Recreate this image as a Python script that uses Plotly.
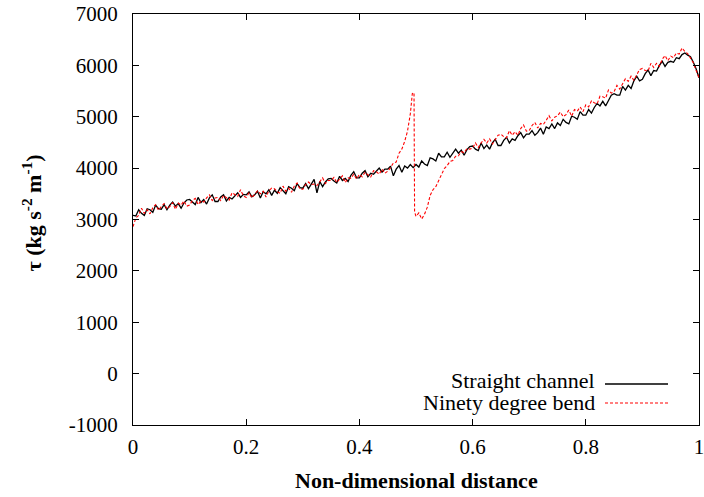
import numpy as np
import plotly.graph_objects as go

# ---------------- data ----------------
x_straight = np.round(np.arange(0, 201) * 0.005, 4)
straight = [
    3080, 3070, 3190, 3120, 3080, 3210, 3190, 3140, 3280, 3210,
    3200, 3290, 3190, 3280, 3340, 3260, 3310, 3220, 3320, 3380,
    3390, 3330, 3290, 3430, 3330, 3390, 3300, 3420, 3480, 3350,
    3350, 3440, 3480, 3360, 3430, 3400, 3460, 3520, 3430, 3490,
    3480, 3540, 3440, 3480, 3550, 3420, 3540, 3500, 3580, 3470,
    3570, 3510, 3620, 3550, 3500, 3640, 3610, 3560, 3700, 3620,
    3610, 3700, 3600, 3690, 3780, 3520, 3740, 3640, 3730, 3790,
    3800, 3750, 3710, 3840, 3760, 3800, 3740, 3860, 3930, 3810,
    3810, 3900, 3950, 3830, 3900, 3880, 3940, 4000, 3920, 3980,
    3980, 4040, 3850, 3980, 4050, 3920, 4040, 4000, 4070, 4010,
    4070, 4020, 4140, 4080, 4050, 4200, 4180, 4140, 4290, 4220,
    4220, 4310, 4210, 4290, 4370, 4290, 4350, 4250, 4360, 4420,
    4430, 4370, 4340, 4490, 4380, 4450, 4370, 4490, 4560, 4440,
    4440, 4540, 4600, 4490, 4570, 4540, 4630, 4690, 4590, 4660,
    4660, 4730, 4640, 4690, 4780, 4660, 4800, 4770, 4860, 4770,
    4880, 4830, 4950, 4890, 4860, 5010, 4990, 4950, 5100, 5030,
    5030, 5140, 5070, 5180, 5260, 5210, 5300, 5210, 5330, 5420,
    5450, 5420, 5420, 5590, 5520, 5610, 5550, 5700, 5790, 5700,
    5730, 5840, 5910, 5800, 5900, 5890, 6000, 6080, 5980, 6060,
    6080, 6060, 6150, 6130, 6210, 6240, 6200, 6170, 6060, 5930,
    5760,
]

x_bend = (
    [round(i * 0.005, 4) for i in range(0, 99)]
    + [0.4935, 0.4965, 0.4975]
    + [round(i * 0.005, 4) for i in range(100, 201)]
)
bend = [
    2860, 3030, 3080, 3220, 3120, 3190, 3110, 3230, 3290, 3180,
    3250, 3310, 3210, 3250, 3330, 3200, 3320, 3280, 3360, 3260,
    3280, 3370, 3410, 3290, 3360, 3340, 3420, 3480, 3370, 3420,
    3430, 3370, 3470, 3420, 3380, 3520, 3490, 3450, 3580, 3460,
    3430, 3520, 3420, 3480, 3560, 3500, 3550, 3440, 3560, 3610,
    3600, 3540, 3510, 3650, 3550, 3610, 3530, 3650, 3710, 3590,
    3590, 3680, 3730, 3680, 3690, 3660, 3730, 3810, 3700, 3760,
    3760, 3820, 3720, 3780, 3850, 3720, 3810, 3800, 3880, 3790,
    3880, 3830, 3920, 3870, 3830, 3950, 3930, 3880, 3980, 3900,
    3940, 4010, 4100, 4120, 4290, 4370, 4520, 4720, 5060,
    5450, 5470, 3150,
    3060, 3130, 3010, 3100, 3240, 3470, 3580, 3640, 3760, 3860,
    3990, 4050, 4130, 4150, 4230, 4240, 4320, 4300, 4380, 4370,
    4390, 4490, 4400, 4490, 4560, 4490, 4570, 4470, 4570, 4640,
    4660, 4610, 4590, 4730, 4640, 4710, 4640, 4770, 4840, 4720,
    4730, 4830, 4890, 4780, 4870, 4850, 4930, 5020, 4920, 4990,
    5020, 5090, 5000, 5040, 5130, 5010, 5140, 5110, 5190, 5100,
    5230, 5190, 5310, 5270, 5250, 5400, 5390, 5360, 5520, 5460,
    5490, 5610, 5540, 5650, 5740, 5690, 5790, 5710, 5830, 5920,
    5940, 5900, 5890, 6040, 5960, 6040, 5980, 6120, 6190, 6090,
    6180, 6150, 6240, 6220, 6340, 6270, 6230, 6140, 6050, 5900,
    5760,
]

x_ticks = [0, 0.2, 0.4, 0.6, 0.8, 1]
x_tick_text = ["0", "0.2", "0.4", "0.6", "0.8", "1"]
y_ticks = [-1000, 0, 1000, 2000, 3000, 4000, 5000, 6000, 7000]
y_tick_text = ["-1000", "0", "1000", "2000", "3000", "4000", "5000", "6000", "7000"]
series_names = ["Straight channel", "Ninety degree bend"]

# ---------------- figure ----------------
FONT = "Liberation Serif"
FS = 21

fig = go.Figure()
fig.add_trace(go.Scatter(x=x_straight, y=straight, mode="lines", name=series_names[0],
                         line=dict(color="#000000", width=1.3), showlegend=False))
fig.add_trace(go.Scatter(x=x_bend, y=bend, mode="lines", name=series_names[1],
                         line=dict(color="#ff0000", width=1.1, dash="3px,2px"), showlegend=False))

axis_common = dict(showgrid=False, zeroline=False, showline=True, linecolor="black",
                   linewidth=1.3, mirror="ticks", ticks="inside", ticklen=6,
                   tickcolor="black", tickwidth=1, automargin=False,
                   ticklabeloverflow="allow",
                   tickfont=dict(family=FONT, size=FS, color="black"))

fig.update_xaxes(range=[0, 1], tickvals=x_ticks, ticktext=x_tick_text,
                 ticklabelstandoff=3, **axis_common)
fig.update_yaxes(range=[-1000, 7000], tickvals=y_ticks, ticktext=y_tick_text,
                 ticklabelstandoff=10, **axis_common)

# axis titles
fig.add_annotation(text="<b>Non-dimensional distance</b>", xref="paper", yref="paper",
                   x=0.5, y=(425 - 480) / 411, showarrow=False, xanchor="center", yanchor="middle",
                   font=dict(family=FONT, size=22, color="black"))
fig.add_annotation(text="<b>τ (kg s<sup>-2</sup> m<sup>-1</sup>)</b>", xref="paper", yref="paper",
                   x=(31 - 133) / 566, y=(425 - 213.5) / 411, showarrow=False, textangle=-90,
                   xanchor="center", yanchor="middle",
                   font=dict(family=FONT, size=22, color="black"))

# legend (gnuplot style: text then sample)
leg_y = [(425 - 380) / 411, (425 - 402) / 411]
line_y = [(425 - 384) / 411, (425 - 403) / 411]
styles = [dict(color="#000000", width=1.3), dict(color="#ff0000", width=1.1, dash="3px,2px")]
for name, ty, ly, st in zip(series_names, leg_y, line_y, styles):
    fig.add_annotation(text=name, xref="paper", yref="paper", x=(597 - 133) / 566, y=ty,
                       showarrow=False, xanchor="right", yanchor="middle",
                       font=dict(family=FONT, size=22, color="black"))
    fig.add_shape(type="line", xref="paper", yref="paper",
                  x0=(605 - 133) / 566, x1=(668 - 133) / 566, y0=ly, y1=ly, line=st)

fig.update_layout(width=704, height=497, margin=dict(l=133, r=5, t=14, b=72),
                  paper_bgcolor="white", plot_bgcolor="white",
                  font=dict(family=FONT, size=FS, color="black"))

fig.write_html("out.html", config={"displayModeBar": False},
               post_script="document.body.style.margin='0';document.body.style.padding='0';")
